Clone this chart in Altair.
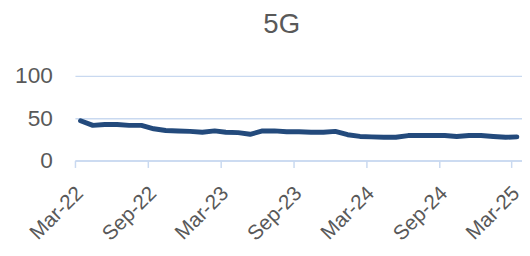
import altair as alt
import pandas as pd

# Monthly 5G values, Mar-22 .. Mar-25 (plotted mid-month)
months = pd.date_range("2022-03-01", periods=37, freq="MS") + pd.Timedelta(days=14)
values = [47, 41.5, 42.5, 42.5, 41.5, 41.5, 37.5, 35.5, 35, 34.5, 33.5, 35, 33.5,
          33, 31, 35, 35, 34, 34, 33.5, 33.5, 34.5, 30.5, 28.5, 28, 27.5, 27.5,
          29.5, 29.5, 29.5, 29.5, 28.5, 29.5, 29.5, 28.5, 27.5, 28]
tick_dates = [(2022, 3), (2022, 9), (2023, 3), (2023, 9), (2024, 3), (2024, 9), (2025, 3)]
y_ticks = [0, 50, 100]

df = pd.DataFrame({"date": [d.strftime("%Y-%m-%d") for d in months], "value": values})

TEXT = "#595959"
GRID = "#C9D9F0"
LINE = "#234A7C"
FONT = "Liberation Sans"

chart = alt.Chart(df).mark_line(color=LINE, strokeWidth=5, strokeCap="round", strokeJoin="round").encode(
    x=alt.X("date:T",
            scale=alt.Scale(type="utc",
                            domain=[alt.DateTime(year=2022, month=3, date=1, utc=True),
                                    alt.DateTime(year=2025, month=3, date=28, utc=True)]),
            axis=alt.Axis(values=[alt.DateTime(year=y, month=m, date=1, utc=True) for y, m in tick_dates],
                          format="%b-%y", labelAngle=-45, labelAlign="right", labelBaseline="top",
                          labelPadding=15, labelOffset=-3, labelFontSize=21, labelColor=TEXT, labelFont=FONT,
                          domainColor=GRID, domainWidth=1.5, tickColor=GRID, tickWidth=1.5, tickSize=7,
                          grid=False, title=None, labelOverlap=False)),
    y=alt.Y("value:Q",
            scale=alt.Scale(domain=[0, 100], nice=False),
            axis=alt.Axis(values=y_ticks, labelPadding=23, labelFontSize=23, labelColor=TEXT, labelFont=FONT,
                          ticks=False, domain=False, gridColor=GRID, gridWidth=1.5, title=None)),
).properties(
    width=454, height=86,
    title=alt.TitleParams("5G", fontSize=28, color=TEXT, font=FONT, fontWeight="normal",
                          anchor="middle", dx=-17, offset=5, baseline="alphabetic"),
    autosize=alt.AutoSizeParams(type="none"),
    padding={"left": 68, "top": 67, "right": 0, "bottom": 95},
).configure_view(stroke=None)

chart.save("out.html", embed_options={"renderer": "svg", "actions": False})
